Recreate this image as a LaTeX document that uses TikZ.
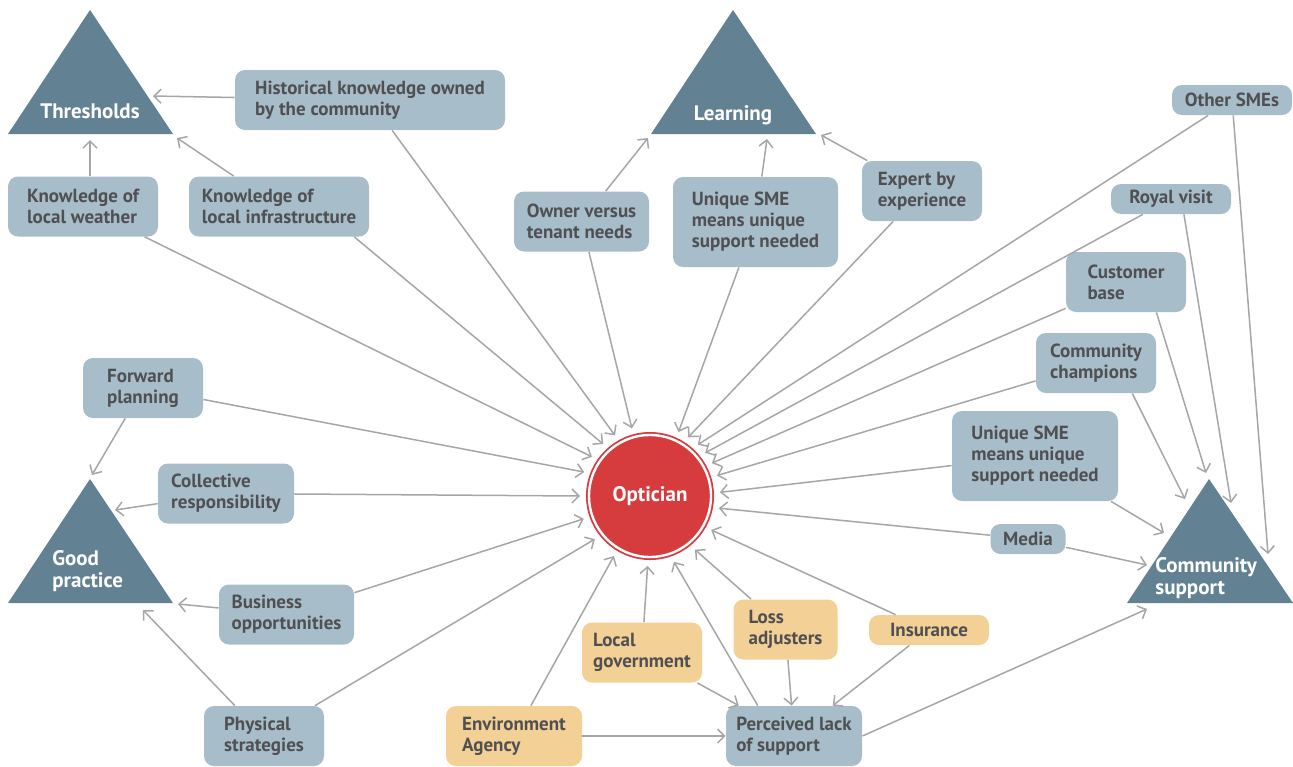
\documentclass[tikz,border=0pt]{standalone}
\usepackage{fontspec}
\setsansfont{PT Sans}
\usetikzlibrary{arrows.meta}

\definecolor{boxblue}{RGB}{167,189,202}
\definecolor{boxorange}{RGB}{242,208,150}
\definecolor{themeblue}{RGB}{98,130,148}
\definecolor{hubred}{RGB}{214,59,62}
\definecolor{linkgray}{RGB}{166,166,168}
\definecolor{textgray}{RGB}{80,80,82}

\tikzset{
  factor/.style={
    rounded corners=5pt,
    fill=boxblue,
    text=textgray,
    font=\sffamily\bfseries\fontsize{9.5}{10.5}\selectfont,
    align=left,
    inner sep=0pt,
    minimum height=30pt,
  },
  agency/.style={
    factor,
    fill=boxorange,
  },
  theme/.style={
    fill=themeblue,
  },
  theme label/.style={
    text=white,
    font=\sffamily\bfseries\fontsize{10.5}{11}\selectfont,
    align=left,
    inner sep=0pt,
  },
  hub/.style={
    circle,
    fill=hubred,
    draw=hubred,
    line width=0.9pt,
    double=white,
    double distance=1.2pt,
    minimum size=61pt,
    inner sep=0pt,
    outer sep=4.5pt,
    text=white,
    font=\sffamily\bfseries\fontsize{10.5}{12}\selectfont,
  },
  link/.style={
    draw=linkgray,
    line width=0.75pt,
    -{Straight Barb[length=3.5pt,width=7pt]},
  },
}

\begin{document}
\begin{tikzpicture}[x=0.5pt,y=-0.5pt]
  \useasboundingbox (0,0) rectangle (1293,766);

  % the four themes
  \fill[theme] (90,10) -- (173,134) -- (8,134) -- cycle;
  \fill[theme] (733,10) -- (816,134) -- (651,134) -- cycle;
  \fill[theme] (90,479) -- (173,603) -- (8,603) -- cycle;
  \fill[theme] (1209,479) -- (1293,603) -- (1127,603) -- cycle;
  \node[theme label, anchor=base] (thr) at (90,118) {Thresholds};
  \node[theme label, anchor=base] (lrn) at (733,120) {Learning};
  \node[theme label, anchor=west] (gp) at (52,571) {Good\\practice};
  \node[theme label, anchor=west] (cs) at (1155,578) {Community\\support};

  % arrow ends on the themes
  \coordinate (thrHist) at (153,96);
  \coordinate (thrWeather) at (90,140);
  \coordinate (thrInfra) at (177,138);
  \coordinate (lrnOwner) at (648,138);
  \coordinate (lrnSme) at (767,139);
  \coordinate (lrnExpert) at (821,135);
  \coordinate (gpForward) at (92,475);
  \coordinate (gpCollective) at (115,510);
  \coordinate (gpBusiness) at (178,604);
  \coordinate (gpPhysical) at (143,610);
  \coordinate (csOthers) at (1268,554);
  \coordinate (csRoyal) at (1231,503);
  \coordinate (csCustomer) at (1206,473);
  \coordinate (csChampions) at (1185,499);
  \coordinate (csSme) at (1164,533);
  \coordinate (csMedia) at (1147,565);
  \coordinate (csPerceived) at (1147,609);

  \node[hub] (opt) at (650,496) {Optician};

  % factors
  \node[factor, minimum width=135pt] (hist) at (370,100) {Historical knowledge owned\\by the community};
  \node[factor, minimum width=75pt] (weather) at (83,206.5) {Knowledge of\\local weather};
  \node[factor, minimum width=90pt] (infra) at (279,206.5) {Knowledge of\\local infrastructure};
  \node[factor, minimum width=67.5pt] (owner) at (581.5,221.5) {Owner versus\\tenant needs};
  \node[factor, minimum width=82.5pt, minimum height=45pt] (smeTop) at (755.5,222) {Unique SME\\means unique\\support needed};
  \node[factor, minimum width=60pt] (expert) at (922,191) {Expert by\\experience};
  \node[factor, minimum width=60pt, minimum height=15pt] (others) at (1232,100) {Other SMEs};
  \node[factor, minimum width=60pt, minimum height=15pt] (royal) at (1171,199) {Royal visit};
  \node[factor, minimum width=60pt] (customer) at (1126,282) {Customer\\base};
  \node[factor, minimum width=60pt] (champions) at (1096,363) {Community\\champions};
  \node[factor, minimum width=83pt, minimum height=45pt] (smeRight) at (1035,456) {Unique SME\\means unique\\support needed};
  \node[factor, minimum width=37.5pt, minimum height=15pt] (media) at (1028,539) {Media};
  \node[agency, minimum width=60pt, minimum height=15pt] (insurance) at (929,630) {Insurance};
  \node[agency, minimum width=52pt] (loss) at (785.5,629.5) {Loss\\adjusters};
  \node[agency, minimum width=60pt] (localgov) at (642,652.5) {Local\\government};
  \node[agency, minimum width=68pt] (envagency) at (514,736) {Environment\\Agency};
  \node[factor, minimum width=68pt] (perceived) at (794,736) {Perceived lack\\of support};
  \node[factor, minimum width=60pt] (physical) at (264,736) {Physical\\strategies};
  \node[factor, minimum width=67.5pt] (business) at (286.5,614.5) {Business\\opportunities};
  \node[factor, minimum width=68pt] (collective) at (226,493.5) {Collective\\responsibility};
  \node[factor, minimum width=60pt] (forward) at (143,388) {Forward\\planning};

  % everything feeds the optician, arrows spread round the circle
  \foreach \src/\ang in {hist/120, owner/105, smeTop/66, expert/57, others/47,
                         royal/38, customer/28, champions/17, smeRight/3, media/-10,
                         insurance/-29, loss/-50, perceived.140/-70, localgov/-92,
                         envagency/-121, physical/-142, business/-161, collective/180,
                         forward/160, weather/146, infra.-22/132}
    \draw[link] (\src) -- (opt.\ang);

  % thresholds
  \draw[link] (hist) -- (thrHist);
  \draw[link] (thrWeather |- weather.north) -- (thrWeather);
  \draw[link] (infra) -- (thrInfra);
  % learning
  \draw[link] (owner) -- (lrnOwner);
  \draw[link] (smeTop) -- (lrnSme);
  \draw[link] (expert) -- (lrnExpert);
  % good practice
  \draw[link] (forward) -- (gpForward);
  \draw[link] (collective) -- (gpCollective);
  \draw[link] (business) -- (gpBusiness);
  \draw[link] (physical) -- (gpPhysical);
  % community support
  \draw[link] (others) -- (csOthers);
  \draw[link] (royal.-50) -- (csRoyal);
  \draw[link] (customer.-45) -- (csCustomer);
  \draw[link] (champions.-40) -- (csChampions);
  \draw[link] (smeRight) -- (csSme);
  \draw[link] (media) -- (csMedia);
  \draw[link] (perceived.east) -- (csPerceived);
  % perceived lack of support
  \draw[link] (envagency) -- (perceived);
  \draw[link] (localgov) -- (perceived);
  \draw[link] (loss) -- (perceived);
  \draw[link] (insurance) -- (perceived);
\end{tikzpicture}
\end{document}
